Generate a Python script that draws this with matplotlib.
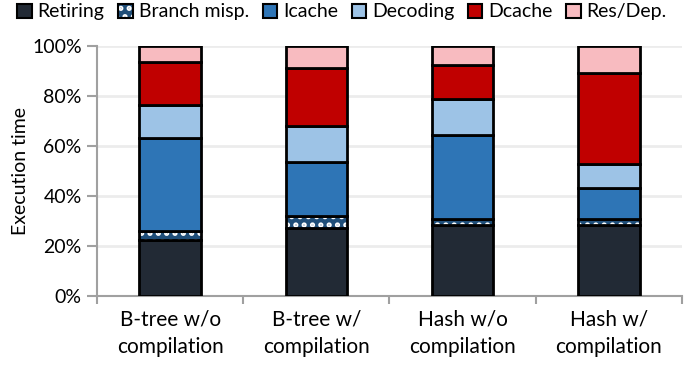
import numpy as np
import matplotlib.pyplot as plt

plt.rcParams['font.family'] = ['Lato', 'DejaVu Sans']
plt.rcParams['hatch.linewidth'] = 2.5

categories = ["B-tree w/o\ncompilation", "B-tree w/\ncompilation",
              "Hash w/o\ncompilation", "Hash w/\ncompilation"]
series = ["Retiring", "Branch misp.", "Icache", "Decoding", "Dcache", "Res/Dep."]
retiring = [22.4, 27.1, 28.4, 28.4]
branch = [3.6, 5.0, 2.3, 2.3]
icache = [37.1, 21.4, 33.7, 12.3]
decoding = [13.1, 14.5, 14.4, 9.7]
dcache = [17.3, 23.1, 13.6, 36.3]
resdep = [6.5, 8.9, 7.6, 11.0]
values = [retiring, branch, icache, decoding, dcache, resdep]
colors = ["#222a35", "#1f4e79", "#2e75b6", "#9dc3e6", "#c00000", "#f8bbc0"]
hatches = [None, "..", None, None, None, None]

fig, ax = plt.subplots(figsize=(6.85, 3.7), dpi=100)
fig.subplots_adjust(left=0.1416, right=0.9956, bottom=0.2, top=0.8757)

x = np.arange(len(categories))
bottom = np.zeros(len(categories))
for name, vals, c, h in zip(series, values, colors, hatches):
    ax.bar(x, vals, bottom=bottom, width=0.42, color=c, edgecolor="black",
           linewidth=2, label=name, hatch=h, zorder=3)
    bottom += np.array(vals)

# white hatch for branch mispredictions
for p in ax.containers[1].patches:
    p._hatch_color = (1, 1, 1, 1)

ax.set_xlim(-0.5, len(categories) - 0.5)
ax.set_ylim(0, 100)
ax.set_yticks(np.arange(0, 101, 20))
ax.set_yticklabels(["{}%".format(v) for v in range(0, 101, 20)])
ax.set_xticks(x)
ax.set_xticklabels(categories, linespacing=1.45)
ax.set_xticks(np.arange(-0.5, len(categories), 1), minor=True)
ax.tick_params(axis="x", which="major", length=0, pad=10, labelsize=15)
ax.tick_params(axis="x", which="minor", length=6, width=1.5, color="#a0a0a0", direction="out")
ax.tick_params(axis="y", length=7, width=1.5, color="#a0a0a0", labelsize=14, pad=4)
ax.set_ylabel("Execution time", fontsize=14, labelpad=2)
ax.yaxis.grid(True, color="#ececec", linewidth=2, zorder=0)
for s in ["top", "right"]:
    ax.spines[s].set_visible(False)
for s in ["left", "bottom"]:
    ax.spines[s].set_color("#a0a0a0")
    ax.spines[s].set_linewidth(1.5)

leg = ax.legend(loc="center", bbox_to_anchor=(0.419, 1.136), ncol=6, frameon=False,
                fontsize=14, handlelength=0.75, handleheight=0.75, handletextpad=0.3,
                columnspacing=0.7, borderaxespad=0)
for h in leg.legend_handles:
    h.set_linewidth(1.5)

plt.savefig("out.png")
